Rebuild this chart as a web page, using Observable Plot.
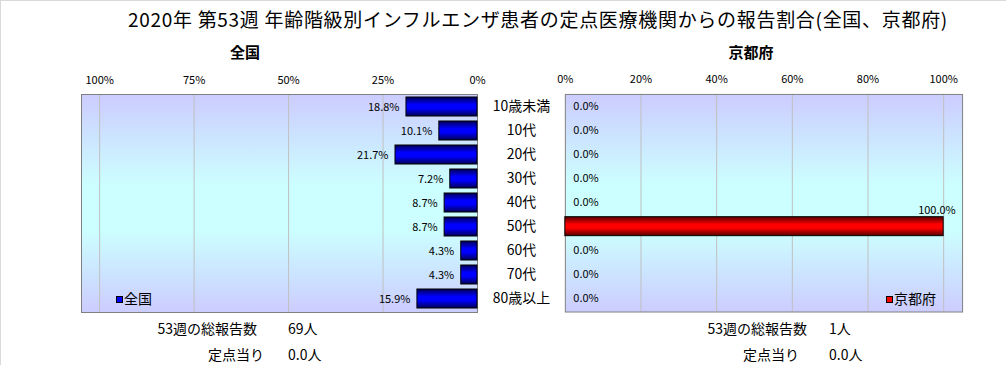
<!DOCTYPE html>
<html><head><meta charset="utf-8">
<script src="https://cdn.jsdelivr.net/npm/d3@7"></script>
<script src="https://cdn.jsdelivr.net/npm/@observablehq/plot@0.6"></script>
<style>
html,body{margin:0;padding:0;background:#fff;}
#wrap{position:relative;width:1005px;height:364px;border-top:1px solid #d9d9d9;border-left:1px solid #d9d9d9;overflow:hidden;font-family:"Noto Sans CJK JP","Noto Sans",sans-serif;color:#000;}
.abs{position:absolute;white-space:nowrap;}
#title{left:0;width:1074px;top:4px;text-align:center;font-size:19px;letter-spacing:0.7px;}
.ptitle{top:40px;font-size:15px;font-weight:bold;text-align:center;width:120px;}
.lbl{font-size:14px;text-align:right;width:160px;}
.val{font-size:14px;}
.leg{font-size:14px;line-height:16px;}
.sq{display:inline-block;width:5px;height:5px;border:1px solid #000;margin-right:1px;vertical-align:middle;position:relative;top:-1px;}
#chartL,#chartR{position:absolute;top:59px;}
#chartL{left:-1px;}
#chartR{left:479px;}
</style></head>
<body>
<div id="wrap">
  <div id="title" class="abs">2020年 第53週 年齢階級別インフルエンザ患者の定点医療機関からの報告割合(全国、京都府)</div>
  <div class="abs ptitle" style="left:184px;">全国</div>
  <div class="abs ptitle" style="left:690px;">京都府</div>
  <div id="chartL"></div>
  <div id="chartR"></div>
  <div class="abs leg" style="left:115px;top:289px;"><span class="sq" style="background:#0000ff"></span>全国</div>
  <div class="abs leg" style="left:885px;top:289px;"><span class="sq" style="background:#ff0000"></span>京都府</div>
  <div class="abs lbl" style="left:96px;top:317px;">53週の総報告数</div>
  <div class="abs val" style="left:287px;top:317px;">69人</div>
  <div class="abs lbl" style="left:103px;top:343px;">定点当り</div>
  <div class="abs val" style="left:287px;top:343px;">0.0人</div>
  <div class="abs lbl" style="left:646px;top:317px;">53週の総報告数</div>
  <div class="abs val" style="left:828px;top:317px;">1人</div>
  <div class="abs lbl" style="left:638px;top:343px;">定点当り</div>
  <div class="abs val" style="left:828px;top:343px;">0.0人</div>
</div>
<script>
const categories = ["10歳未満","10代","20代","30代","40代","50代","60代","70代","80歳以上"];
const zenkoku = [18.8,10.1,21.7,7.2,8.7,8.7,4.3,4.3,15.9];
const kyoto = [0.0,0.0,0.0,0.0,0.0,100.0,0.0,0.0,0.0];
const leftTicks = [100,75,50,25,0];
const rightTicks = [0,20,40,60,80,100];

const dataL = categories.map((c,i)=>({cat:c, v:zenkoku[i]}));
const dataR = categories.map((c,i)=>({cat:c, v:kyoto[i]}));
const font = '"Noto Sans CJK JP","Noto Sans",sans-serif';
const fmtPct = d => d.toFixed(1) + "%";

function addDefs(svg, prefix, dark, bright){
  const defs = d3.select(svg).insert("defs", ":first-child");
  const bg = defs.append("linearGradient").attr("id", prefix+"bg").attr("x1",0).attr("y1",0).attr("x2",0).attr("y2",1);
  [[0,"#ccccff"],[0.42,"#ccffff"],[0.62,"#ccffff"],[1,"#ccccff"]].forEach(([o,c])=>bg.append("stop").attr("offset",o).attr("stop-color",c));
  const bar = defs.append("linearGradient").attr("id", prefix+"bar").attr("x1",0).attr("y1",0).attr("x2",0).attr("y2",1);
  [[0,dark],[0.4,bright],[0.6,bright],[1,dark]].forEach(([o,c])=>bar.append("stop").attr("offset",o).attr("stop-color",c));
}

const common = {
  height: 262,
  marginTop: 34,
  marginBottom: 10,
  style: {fontFamily: font, fontSize: "11px", background: "transparent", color: "#000", overflow: "visible"},
};

const left = Plot.plot({
  ...common,
  width: 481,
  marginLeft: 81,
  marginRight: 4,
  x: {domain: [0, 104.8], reverse: true, label: null},
  y: {domain: categories, paddingInner: 0.19, paddingOuter: 0.08, axis: null, label: null},
  marks: [
    Plot.frame({fill: "url(#Lbg)", stroke: null}),
    Plot.gridX(leftTicks.filter(d=>d>0), {stroke: "#c0c0c0", strokeOpacity: 1}),
    Plot.frame({stroke: "#808080"}),
    Plot.axisX({anchor: "top", ticks: leftTicks, tickSize: 0, tickPadding: 11, tickFormat: d => d + "%", fontSize: 11, label: null}),
    Plot.barX(dataL, {x1: 0, x2: "v", y: "cat", fill: "url(#Lbar)", stroke: "#000", strokeWidth: 1}),
    Plot.text(dataL, {x: "v", y: "cat", text: d => fmtPct(d.v), textAnchor: "end", dx: -7, fontSize: 11})
  ]
});
addDefs(left, "L", "#000055", "#0000ff");
document.getElementById("chartL").appendChild(left);

const right = Plot.plot({
  ...common,
  width: 527,
  marginLeft: 85,
  marginRight: 44,
  x: {domain: [0, 105], label: null},
  y: {domain: categories, paddingInner: 0.19, paddingOuter: 0.08, axis: null, label: null},
  marks: [
    Plot.frame({fill: "url(#Rbg)", stroke: null}),
    Plot.gridX(rightTicks.filter(d=>d>0), {stroke: "#c0c0c0", strokeOpacity: 1}),
    Plot.frame({stroke: "#808080"}),
    Plot.axisX({anchor: "top", ticks: rightTicks, tickSize: 0, tickPadding: 11, tickFormat: d => d + "%", fontSize: 11, label: null}),
    Plot.text(categories, {y: d => d, frameAnchor: "left", dx: -44, textAnchor: "middle", fontSize: 14}),
    Plot.barX(dataR.filter(d=>d.v>0), {x1: 0, x2: "v", y: "cat", fill: "url(#Rbar)", stroke: "#000", strokeWidth: 1}),
    Plot.text(dataR.filter(d=>d.v<90), {x: "v", y: "cat", text: d => fmtPct(d.v), textAnchor: "start", dx: 8, fontSize: 11}),
    Plot.text(dataR.filter(d=>d.v>=90), {x: "v", y: "cat", text: d => fmtPct(d.v), textAnchor: "end", dx: 12, dy: -16, fontSize: 11})
  ]
});
addDefs(right, "R", "#550000", "#ff0000");
document.getElementById("chartR").appendChild(right);
</script>
</body></html>
